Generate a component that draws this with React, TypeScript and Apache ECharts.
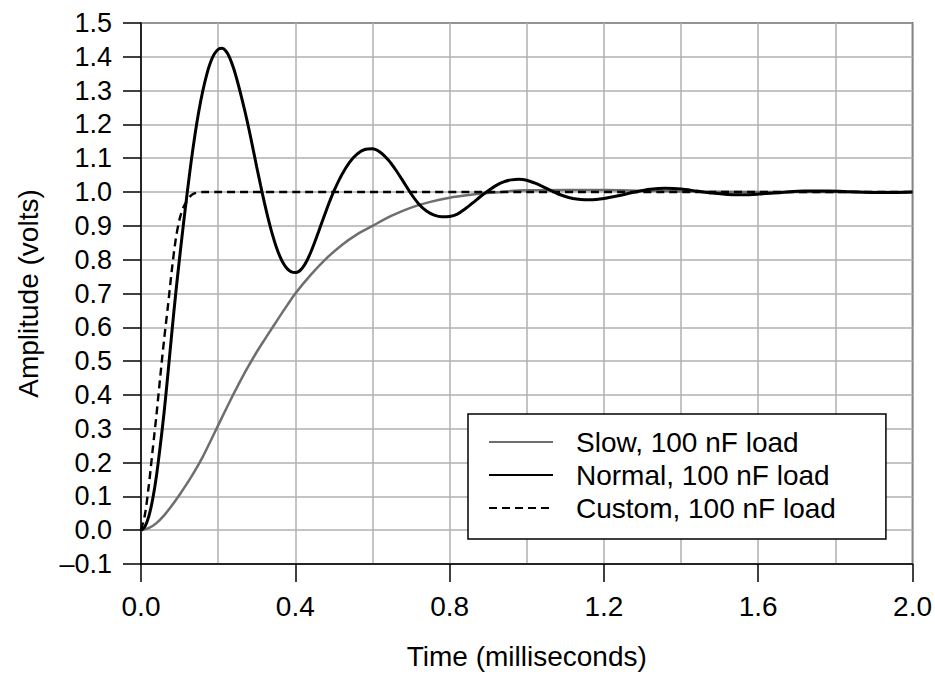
import React, { useEffect, useRef } from "react";
import * as echarts from "echarts";

const seriesNames = ["Slow, 100 nF load", "Normal, 100 nF load", "Custom, 100 nF load"];

const slowT = [0, 0.02, 0.04, 0.06, 0.08, 0.1, 0.12, 0.14, 0.16, 0.18, 0.2, 0.22, 0.24, 0.26, 0.28, 0.3, 0.32, 0.34, 0.36, 0.38, 0.4, 0.44, 0.48, 0.52, 0.56, 0.6, 0.65, 0.7, 0.75, 0.8, 0.85, 0.9, 0.95, 1.0, 1.1, 1.2, 1.3, 1.4, 1.6, 1.8, 2.0];
const slowV = [0, 0.006, 0.021, 0.044, 0.073, 0.105, 0.139, 0.176, 0.217, 0.263, 0.31, 0.357, 0.403, 0.447, 0.488, 0.527, 0.563, 0.598, 0.633, 0.667, 0.7, 0.755, 0.803, 0.843, 0.875, 0.9, 0.93, 0.954, 0.971, 0.983, 0.991, 0.997, 1.002, 1.005, 1.006, 1.006, 1.004, 1.002, 1.0, 1.0, 1.0];

const normalT = [0, 0.01, 0.02, 0.03, 0.04, 0.05, 0.06, 0.07, 0.08, 0.09, 0.1, 0.11, 0.12, 0.13, 0.14, 0.15, 0.16, 0.17, 0.18, 0.19, 0.2, 0.21, 0.22, 0.23, 0.24, 0.25, 0.26, 0.27, 0.28, 0.29, 0.3, 0.31, 0.32, 0.33, 0.34, 0.35, 0.36, 0.37, 0.38, 0.39, 0.4, 0.41, 0.42, 0.43, 0.44, 0.45, 0.46, 0.47, 0.48, 0.49, 0.5, 0.52, 0.54, 0.56, 0.58, 0.6, 0.62, 0.64, 0.66, 0.68, 0.7, 0.72, 0.74, 0.76, 0.78, 0.8, 0.82, 0.84, 0.86, 0.88, 0.9, 0.92, 0.94, 0.96, 0.98, 1.0, 1.02, 1.04, 1.06, 1.08, 1.1, 1.12, 1.14, 1.16, 1.18, 1.2, 1.24, 1.28, 1.32, 1.36, 1.4, 1.44, 1.48, 1.52, 1.56, 1.6, 1.66, 1.72, 1.78, 1.84, 1.9, 1.96, 2.0];
const normalV = [0, 0.01, 0.04, 0.09, 0.16, 0.25, 0.35, 0.465, 0.585, 0.7, 0.805, 0.905, 1.0, 1.09, 1.17, 1.24, 1.298, 1.346, 1.383, 1.408, 1.422, 1.425, 1.417, 1.397, 1.366, 1.327, 1.283, 1.236, 1.185, 1.13, 1.074, 1.02, 0.968, 0.92, 0.877, 0.84, 0.81, 0.787, 0.772, 0.764, 0.762, 0.766, 0.778, 0.797, 0.822, 0.851, 0.882, 0.914, 0.945, 0.975, 1.003, 1.05, 1.087, 1.112, 1.126, 1.128, 1.118, 1.096, 1.066, 1.031, 0.995, 0.965, 0.944, 0.932, 0.927, 0.928, 0.935, 0.95, 0.968, 0.987, 1.004, 1.019, 1.03, 1.036, 1.038, 1.035, 1.027, 1.017, 1.006, 0.995, 0.987, 0.981, 0.978, 0.977, 0.978, 0.981, 0.99, 1.0, 1.008, 1.011, 1.009, 1.003, 0.997, 0.993, 0.992, 0.994, 0.999, 1.003, 1.003, 1.001, 0.999, 0.999, 1.0];

const customT = [0, 0.01, 0.02, 0.03, 0.04, 0.05, 0.06, 0.07, 0.08, 0.09, 0.1, 0.11, 0.12, 0.13, 0.14, 0.16, 0.2, 0.5, 1.0, 1.5, 2.0];
const customV = [0, 0.045, 0.13, 0.235, 0.34, 0.455, 0.565, 0.665, 0.77, 0.86, 0.92, 0.955, 0.975, 0.99, 0.997, 1.0, 1.0, 1.0, 1.0, 1.0, 1.0];

const xTicks = [0, 0.4, 0.8, 1.2, 1.6, 2.0];
const yMin = -0.1;
const yMax = 1.5;

const zip = (t: number[], v: number[]) => t.map((x, i) => [x, v[i]]);

const FONT = "'Liberation Sans', Arial, Helvetica, sans-serif";

export default function App() {
  const ref = useRef<HTMLDivElement>(null);
  useEffect(() => {
    if (!ref.current) return;
    const chart = echarts.init(ref.current, undefined, { renderer: "svg" });
    const axisText = { color: "#000", fontSize: 27, fontFamily: FONT };
    const nameText = { color: "#000", fontSize: 28, fontFamily: FONT };
    chart.setOption({
      animation: false,
      backgroundColor: "#fff",
      grid: {
        left: 141,
        right: 20,
        top: 23,
        bottom: 110,
        show: true,
        borderColor: "#000",
        borderWidth: 1.5,
      },
      legend: {
        data: seriesNames,
        orient: "vertical",
        left: 468,
        top: 414,
        backgroundColor: "#fff",
        borderColor: "#000",
        borderWidth: 1.5,
        borderRadius: 0,
        padding: [14, 50, 17, 20],
        itemWidth: 64,
        itemHeight: 28,
        itemGap: 5,
        selectedMode: false,
        itemStyle: { opacity: 0, color: "transparent", borderColor: "transparent", borderWidth: 0 },
        textStyle: {
          color: "#000",
          fontSize: 28,
          lineHeight: 28,
          fontFamily: FONT,
          padding: [0, 0, 0, 18],
        },
      },
      xAxis: {
        type: "value",
        min: xTicks[0],
        max: xTicks[xTicks.length - 1],
        interval: 0.4,
        name: "Time (milliseconds)",
        nameLocation: "middle",
        nameGap: 78,
        nameTextStyle: nameText,
        axisLine: { show: true, onZero: false, lineStyle: { color: "#000", width: 1.5 } },
        axisTick: { show: true, inside: false, length: 18, lineStyle: { color: "#000", width: 1.5 } },
        axisLabel: { ...axisText, fontSize: 28, margin: 28, formatter: (v: number) => v.toFixed(1) },
        splitLine: { show: true, lineStyle: { color: "#b0b0b0", width: 1.5 } },
        minorTick: { show: false, splitNumber: 2 },
        minorSplitLine: { show: true, lineStyle: { color: "#b0b0b0", width: 1.5 } },
      },
      yAxis: {
        type: "value",
        min: yMin,
        max: yMax,
        interval: 0.1,
        name: "Amplitude (volts)",
        nameLocation: "middle",
        nameGap: 99,
        nameTextStyle: nameText,
        axisLine: { show: true, onZero: false, lineStyle: { color: "#000", width: 1.5 } },
        axisTick: { show: true, inside: false, length: 18, lineStyle: { color: "#000", width: 1.5 } },
        axisLabel: {
          ...axisText,
          margin: 29,
          formatter: (v: number) => (v < -1e-9 ? "\u2013" + Math.abs(v).toFixed(1) : Math.abs(v).toFixed(1)),
        },
        splitLine: { show: true, lineStyle: { color: "#b0b0b0", width: 1.5 } },
      },
      series: [
        {
          name: seriesNames[0],
          type: "line",
          data: zip(slowT, slowV),
          symbol: "none",
          smooth: 0.3,
          lineStyle: { color: "#6e6e6e", width: 2.5 },
          itemStyle: { color: "#6e6e6e" },
          z: 2,
        },
        {
          name: seriesNames[2],
          type: "line",
          data: zip(customT, customV),
          symbol: "none",
          smooth: 0.3,
          lineStyle: { color: "#000", width: 2.4, type: [8, 5] },
          itemStyle: { color: "#000" },
          z: 3,
        },
        {
          name: seriesNames[1],
          type: "line",
          data: zip(normalT, normalV),
          symbol: "none",
          smooth: 0.3,
          lineStyle: { color: "#000", width: 3 },
          itemStyle: { color: "#000" },
          z: 4,
        },
      ],
    });
    return () => chart.dispose();
  }, []);
  return <div ref={ref} style={{ width: 935, height: 675, position: "absolute", left: 0, top: 0 }} />;
}
